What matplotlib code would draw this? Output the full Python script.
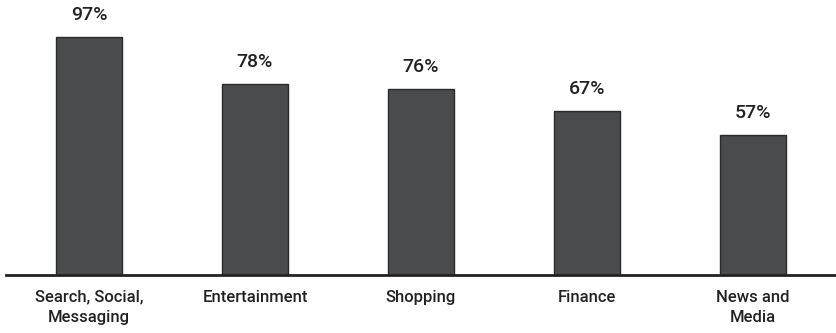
import matplotlib.pyplot as plt
import numpy as np

categories = ['Search, Social,\nMessaging', 'Entertainment', 'Shopping', 'Finance', 'News and\nMedia']
values = [97, 78, 76, 67, 57]

plt.rcParams['font.family'] = ['Roboto', 'DejaVu Sans']

fig = plt.figure(figsize=(8.36, 3.33), dpi=100)
ax = fig.add_axes([6 / 836, 58.5 / 333, 830 / 836, 274.5 / 333])

x = np.arange(len(values))
bars = ax.bar(x, values, width=0.40, color='#4a4b4d', edgecolor='#2a2a2a', linewidth=1)

for b, v in zip(bars, values):
    ax.annotate(f'{v}%', (b.get_x() + b.get_width() / 2, v), xytext=(0, 9.5),
                textcoords='offset points', ha='center', va='bottom',
                fontsize=14, fontweight='medium', color='#222222')

ax.set_xlim(-0.5, 4.5)
ax.set_ylim(0, 112.3)
ax.set_xticks(x)
ax.set_xticklabels(categories, fontsize=12, fontweight='medium', color='#222222', linespacing=1.4)
ax.tick_params(axis='x', length=0, pad=11)
ax.set_yticks([])
for s in ['top', 'right', 'left']:
    ax.spines[s].set_visible(False)
ax.spines['bottom'].set_linewidth(2)
ax.spines['bottom'].set_color('#222222')

plt.savefig('out.png', dpi=100)
